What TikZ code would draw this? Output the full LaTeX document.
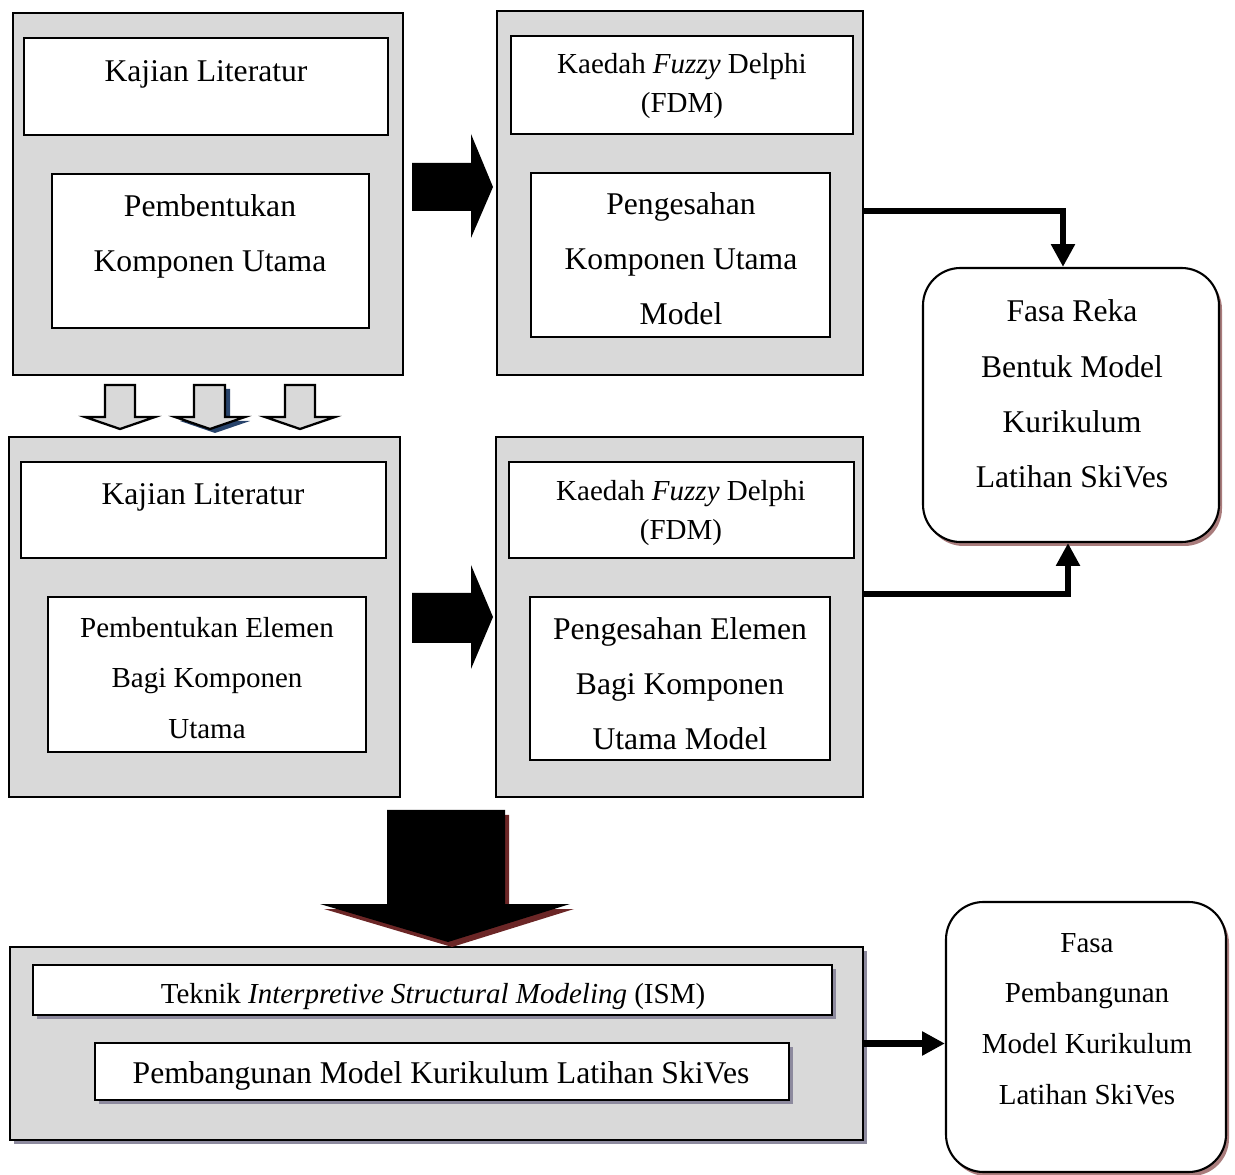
\documentclass[tikz,border=0pt]{standalone}
\usepackage{fontspec}
\setmainfont{Liberation Serif}
\usetikzlibrary{fit,calc,arrows.meta,shadows}
\definecolor{panel}{HTML}{D9D9D9}
\definecolor{shgray}{HTML}{8D8A9E}
\definecolor{shred}{HTML}{A97C7C}
\definecolor{shdark}{HTML}{6B2626}
\definecolor{shblue}{HTML}{27436B}
\begin{document}
\begin{tikzpicture}[x=0.02cm, y=-0.02cm,
  panelbox/.style={draw, line width=1.4pt, fill=panel, inner sep=0pt},
  inbox/.style={draw, line width=1.2pt, fill=white, inner sep=0pt},
  eshadow/.style={general shadow={fill=shgray, shadow xshift=0.08cm, shadow yshift=-0.08cm}},
  phase/.style={draw, line width=1.2pt, fill=white, rounded corners=0.75cm, inner sep=0pt,
    general shadow={fill=shred, shadow xshift=0.06cm, shadow yshift=-0.08cm}},
  lg/.style={align=center, inner sep=0pt, font=\fontsize{18}{31.4}\selectfont},
  sm/.style={align=center, inner sep=0pt, font=\fontsize{16.5}{28.8}\selectfont},
  fdm/.style={align=center, inner sep=0pt, font=\fontsize{16.5}{22}\selectfont},
  conn/.style={line width=3.6pt, line join=miter, -{Triangle[width=13pt,length=13pt]}},
  blockarrow/.style={fill=black},
  hollowarrow/.style={draw, line width=1.3pt, line join=miter, fill=panel}]
\useasboundingbox (0,0) rectangle (1235,1175);

% stage one: literature review and expert validation of the main components
\node[panelbox, fit={(13,13) (403,375)}] (A) {};
\node[inbox, fit={(24,38) (388,135)}] (A1) {};
\node[inbox, fit={(52,174) (369,328)}] (A2) {};
\node[lg] (tA1) at (206,74) {Kajian Literatur};
\node[lg] (tA2) at (210,236) {Pembentukan\\Komponen Utama};

\node[panelbox, fit={(497,11) (863,375)}] (B) {};
\node[inbox, fit={(511,36) (853,134)}] (B1) {};
\node[inbox, fit={(531,173) (830,337)}] (B2) {};
\node[fdm] (tB1) at (682,86) {Kaedah \textit{Fuzzy} Delphi\\(FDM)};
\node[lg] (tB2) at (681,259) {Pengesahan\\Komponen Utama\\Model};

% stage two: elements of each main component
\node[panelbox, fit={(9,437) (400,797)}] (C) {};
\node[inbox, fit={(21,462) (386,558)}] (C1) {};
\node[inbox, fit={(48,597) (366,752)}] (C2) {};
\node[lg] (tC1) at (203,497) {Kajian Literatur};
\node[sm] (tC2) at (207,678) {Pembentukan Elemen\\Bagi Komponen\\Utama};

\node[panelbox, fit={(496,437) (863,797)}] (D) {};
\node[inbox, fit={(509,462) (854,558)}] (D1) {};
\node[inbox, fit={(530,597) (830,760)}] (D2) {};
\node[fdm] (tD1) at (681,513) {Kaedah \textit{Fuzzy} Delphi\\(FDM)};
\node[lg] (tD2) at (680,684) {Pengesahan Elemen\\Bagi Komponen\\Utama Model};

% stage three: ISM model building
\node[panelbox, eshadow, fit={(10,947) (863,1140)}] (E) {};
\node[inbox, eshadow, fit={(33,965) (832,1015)}] (E1) {};
\node[inbox, eshadow, fit={(95,1043) (789,1100)}] (E2) {};
\node[sm] (tE1) at (433,997) {Teknik \textit{Interpretive Structural Modeling} (ISM)};
\node[lg] (tE2) at (441,1076) {Pembangunan Model Kurikulum Latihan SkiVes};

% phases
\node[phase, fit={(923,268) (1219,542)}] (F) {};
\node[lg] (tF) at (1072,394) {Fasa Reka\\Bentuk Model\\Kurikulum\\Latihan SkiVes};
\node[phase, fit={(946,902) (1226,1172)}] (G) {};
\node[sm] (tG) at (1087,1019) {Fasa\\Pembangunan\\Model Kurikulum\\Latihan SkiVes};

% block arrows between the panels
\path[blockarrow] (412,163) -- (471,163) -- (471,134) -- (493,187) -- (471,238) -- (471,211) -- (412,211) -- cycle;
\path[blockarrow] (412,593) -- (471,593) -- (471,565) -- (493,617) -- (471,669) -- (471,643) -- (412,643) -- cycle;

% hollow arrows from stage one to stage two
\path[hollowarrow] (105,385) -- (135,385) -- (135,417) -- (155,417) -- (120,429) -- (85,417) -- (105,417) -- cycle;
\path[fill=shblue, shift={(5,4)}] (194,385) -- (225,385) -- (225,417) -- (245,417) -- (210,429) -- (175,417) -- (194,417) -- cycle;
\path[hollowarrow] (194,385) -- (225,385) -- (225,417) -- (245,417) -- (210,429) -- (175,417) -- (194,417) -- cycle;
\path[hollowarrow] (285,385) -- (315,385) -- (315,417) -- (335,417) -- (300,429) -- (265,417) -- (285,417) -- cycle;

% large arrow down to stage three
\path[fill=shdark, shift={(4,5)}] (387,810) -- (505,810) -- (505,904) -- (570,904) -- (448,942) -- (320,904) -- (387,904) -- cycle;
\path[blockarrow] (387,810) -- (505,810) -- (505,904) -- (570,904) -- (448,942) -- (320,904) -- (387,904) -- cycle;

% connectors to the phases
\draw[conn] ($(B.east)+(0,18)$) -| ($(F.north)+(-8,0)$);
\draw[conn] ($(D.east)+(0,-23)$) -| ($(F.south)+(-3,0)$);
\draw[conn] (E.east) -- (E.east -| G.west);
\end{tikzpicture}
\end{document}
